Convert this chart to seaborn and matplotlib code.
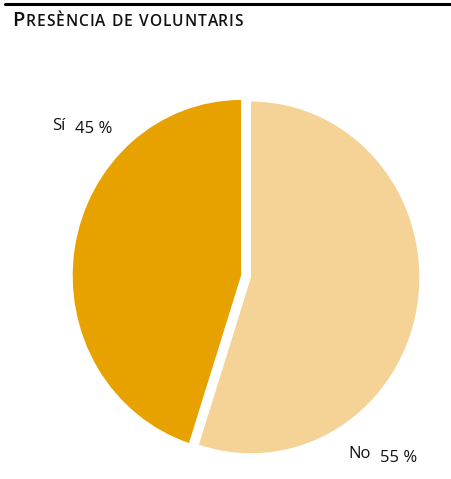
import matplotlib
matplotlib.use("Agg")
import matplotlib.pyplot as plt
import seaborn as sns
from matplotlib.lines import Line2D

# Data
categories = ["Sí", "No"]
values = [45, 55]
value_labels = ["45 %", "55 %"]
colors = ["#E8A200", "#F5D295"]
title_text = "Presència de voluntaris"

sns.set_theme(style="white")
plt.rcParams["font.family"] = ["Open Sans", "DejaVu Sans"]

W, H = 451, 479
fig = plt.figure(figsize=(W / 100, H / 100), dpi=100)
ax = fig.add_axes([0, 0, 1, 1])

ax.pie(values, colors=colors, startangle=90, counterclock=True,
       explode=[0.03, 0.03], wedgeprops=dict(linewidth=0))

# pixel geometry: horizontal & vertical scale slightly different like the reference
cx, cy = 246.0, 276.6
sx, sy = 168.3, 175.8
ax.set_aspect("auto")
ax.set_xlim(-cx / sx, (W - cx) / sx)
ax.set_ylim(-(H - cy) / sy, cy / sy)
ax.axis("off")


def fx(px):
    return px / W


def fy(py):
    return 1 - py / H


# top rule
fig.add_artist(Line2D([fx(5), fx(451)], [fy(3.5), fy(3.5)], color="#000000",
                      linewidth=2.2, transform=fig.transFigure))

# small-caps title with tracking
renderer = fig.canvas.get_renderer()
title_kw = dict(ha="left", va="baseline", color="#111111", fontweight="semibold")
big_size, small_size = 14.6, 11.2
x_start, x_end, base = 12.0, 243.0, 26.0


def text_width(s, size):
    t = fig.text(0, 0, s, fontsize=size, **title_kw)
    w = t.get_window_extent(renderer=renderer).width
    t.remove()
    return w


first = title_text[0].upper()
rest = title_text[1:].upper()
w_first = text_width(first, big_size)
w_I = text_width("I", small_size)
prefix_w = [text_width(rest[:i] + "I", small_size) - w_I for i in range(len(rest) + 1)]
natural = w_first + text_width(rest, small_size)
n_gaps = len(rest)
track = (x_end - x_start - natural) / n_gaps

fig.text(fx(x_start), fy(base), first, fontsize=big_size, **title_kw)
x0 = x_start + w_first
for i, ch in enumerate(rest):
    if ch == " ":
        continue
    fig.text(fx(x0 + prefix_w[i] + (i + 1) * track), fy(base), ch,
             fontsize=small_size, **title_kw)

# slice labels
label_pos = [((52, 129.5), (75, 133)), ((348, 458), (380, 462))]
for cat, vl, ((x1, y1), (x2, y2)) in zip(categories, value_labels, label_pos):
    fig.text(fx(x1), fy(y1), cat, fontsize=12, ha="left", va="baseline",
             color="#111111")
    fig.text(fx(x2), fy(y2), vl, fontsize=12, ha="left", va="baseline",
             color="#111111")

fig.savefig("out.png", dpi=100)
